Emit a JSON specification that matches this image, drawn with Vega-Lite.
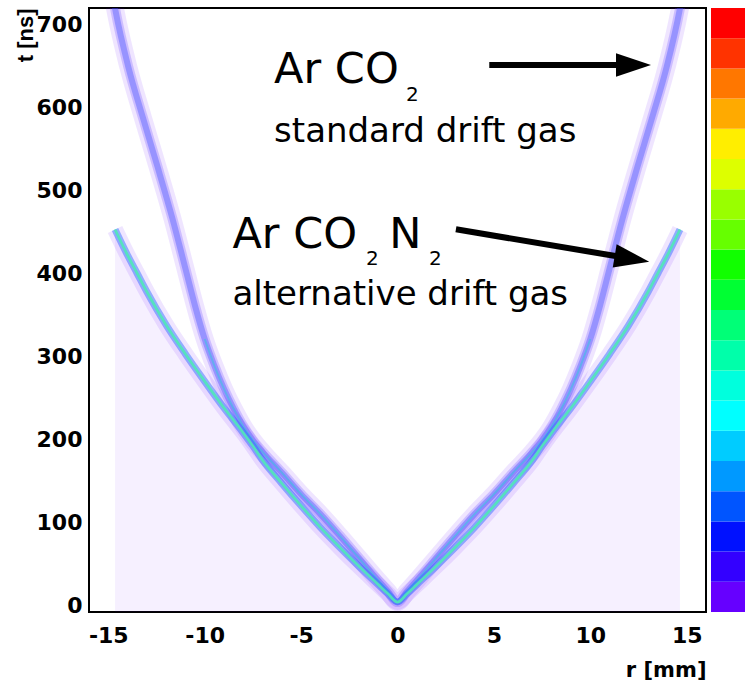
{
  "$schema": "https://vega.github.io/schema/vega-lite/v6.json",
  "width": 617,
  "height": 604,
  "autosize": {"type": "none"},
  "padding": {"left": 89, "top": 8, "right": 39, "bottom": 75},
  "background": "white",
  "config": {
    "view": {"stroke": "#000", "strokeWidth": 2},
    "axis": {"domain": false, "grid": false, "ticks": false}
  },
  "datasets": {
    "curves": [
      {"gas": "ArCO2", "r": -14.7, "t": 726}, {"gas": "ArCO2", "r": -14.62, "t": 716}, {"gas": "ArCO2", "r": -13.96, "t": 649},
      {"gas": "ArCO2", "r": -13.22, "t": 589}, {"gas": "ArCO2", "r": -12.45, "t": 529}, {"gas": "ArCO2", "r": -11.67, "t": 466},
      {"gas": "ArCO2", "r": -11, "t": 406}, {"gas": "ArCO2", "r": -10.5, "t": 361}, {"gas": "ArCO2", "r": -10, "t": 321},
      {"gas": "ArCO2", "r": -9.5, "t": 289}, {"gas": "ArCO2", "r": -9, "t": 261}, {"gas": "ArCO2", "r": -8.5, "t": 237},
      {"gas": "ArCO2", "r": -8, "t": 216}, {"gas": "ArCO2", "r": -7.5, "t": 199}, {"gas": "ArCO2", "r": -7, "t": 185},
      {"gas": "ArCO2", "r": -6, "t": 160}, {"gas": "ArCO2", "r": -5, "t": 134}, {"gas": "ArCO2", "r": -4, "t": 110},
      {"gas": "ArCO2", "r": -3, "t": 84}, {"gas": "ArCO2", "r": -2, "t": 57}, {"gas": "ArCO2", "r": -1, "t": 30},
      {"gas": "ArCO2", "r": -0.5, "t": 17}, {"gas": "ArCO2", "r": 0, "t": 4}, {"gas": "ArCO2", "r": 0.5, "t": 17},
      {"gas": "ArCO2", "r": 1, "t": 30}, {"gas": "ArCO2", "r": 2, "t": 57}, {"gas": "ArCO2", "r": 3, "t": 84},
      {"gas": "ArCO2", "r": 4, "t": 110}, {"gas": "ArCO2", "r": 5, "t": 134}, {"gas": "ArCO2", "r": 6, "t": 160},
      {"gas": "ArCO2", "r": 7, "t": 185}, {"gas": "ArCO2", "r": 7.5, "t": 199}, {"gas": "ArCO2", "r": 8, "t": 216},
      {"gas": "ArCO2", "r": 8.5, "t": 237}, {"gas": "ArCO2", "r": 9, "t": 261}, {"gas": "ArCO2", "r": 9.5, "t": 289},
      {"gas": "ArCO2", "r": 10, "t": 321}, {"gas": "ArCO2", "r": 10.5, "t": 361}, {"gas": "ArCO2", "r": 11, "t": 406},
      {"gas": "ArCO2", "r": 11.67, "t": 466}, {"gas": "ArCO2", "r": 12.45, "t": 529}, {"gas": "ArCO2", "r": 13.22, "t": 589},
      {"gas": "ArCO2", "r": 13.96, "t": 649}, {"gas": "ArCO2", "r": 14.62, "t": 716}, {"gas": "ArCO2", "r": 14.7, "t": 726},
      {"gas": "ArCO2N2", "r": -14.65, "t": 453}, {"gas": "ArCO2N2", "r": -14, "t": 422},
      {"gas": "ArCO2N2", "r": -13.5, "t": 400}, {"gas": "ArCO2N2", "r": -13, "t": 378}, {"gas": "ArCO2N2", "r": -12, "t": 338},
      {"gas": "ArCO2N2", "r": -11, "t": 303}, {"gas": "ArCO2N2", "r": -10, "t": 270}, {"gas": "ArCO2N2", "r": -9, "t": 238},
      {"gas": "ArCO2N2", "r": -8, "t": 208}, {"gas": "ArCO2N2", "r": -7.5, "t": 192}, {"gas": "ArCO2N2", "r": -7, "t": 175},
      {"gas": "ArCO2N2", "r": -6, "t": 147}, {"gas": "ArCO2N2", "r": -5, "t": 120}, {"gas": "ArCO2N2", "r": -4, "t": 94},
      {"gas": "ArCO2N2", "r": -3, "t": 70}, {"gas": "ArCO2N2", "r": -2, "t": 47}, {"gas": "ArCO2N2", "r": -1, "t": 25},
      {"gas": "ArCO2N2", "r": -0.5, "t": 14}, {"gas": "ArCO2N2", "r": 0, "t": 4}, {"gas": "ArCO2N2", "r": 0.5, "t": 14},
      {"gas": "ArCO2N2", "r": 1, "t": 25}, {"gas": "ArCO2N2", "r": 2, "t": 47}, {"gas": "ArCO2N2", "r": 3, "t": 70},
      {"gas": "ArCO2N2", "r": 4, "t": 94}, {"gas": "ArCO2N2", "r": 5, "t": 120}, {"gas": "ArCO2N2", "r": 6, "t": 147},
      {"gas": "ArCO2N2", "r": 7, "t": 175}, {"gas": "ArCO2N2", "r": 7.5, "t": 192}, {"gas": "ArCO2N2", "r": 8, "t": 208},
      {"gas": "ArCO2N2", "r": 9, "t": 238}, {"gas": "ArCO2N2", "r": 10, "t": 270}, {"gas": "ArCO2N2", "r": 11, "t": 303},
      {"gas": "ArCO2N2", "r": 12, "t": 338}, {"gas": "ArCO2N2", "r": 13, "t": 378}, {"gas": "ArCO2N2", "r": 13.5, "t": 400},
      {"gas": "ArCO2N2", "r": 14, "t": 422}, {"gas": "ArCO2N2", "r": 14.65, "t": 453}
    ],
    "palette": [{"level": 0}, {"level": 20}],
    "xmajor": [{"r": -15}, {"r": -10}, {"r": -5}, {"r": 0}, {"r": 5}, {"r": 10}, {"r": 15}],
    "xminor": [{"r": -14}, {"r": -13}, {"r": -12}, {"r": -11}, {"r": -9}, {"r": -8}, {"r": -7}, {"r": -6}, {"r": -4}, {"r": -3}, {"r": -2}, {"r": -1}, {"r": 1}, {"r": 2}, {"r": 3}, {"r": 4}, {"r": 6}, {"r": 7}, {"r": 8}, {"r": 9}, {"r": 11}, {"r": 12}, {"r": 13}, {"r": 14}],
    "ymajor": [{"t": 0}, {"t": 100}, {"t": 200}, {"t": 300}, {"t": 400}, {"t": 500}, {"t": 600}, {"t": 700}],
    "yminor": [{"t": 20}, {"t": 40}, {"t": 60}, {"t": 80}, {"t": 120}, {"t": 140}, {"t": 160}, {"t": 180}, {"t": 220}, {"t": 240}, {"t": 260}, {"t": 280}, {"t": 320}, {"t": 340}, {"t": 360}, {"t": 380}, {"t": 420}, {"t": 440}, {"t": 460}, {"t": 480}, {"t": 520}, {"t": 540}, {"t": 560}, {"t": 580}, {"t": 620}, {"t": 640}, {"t": 660}, {"t": 680}, {"t": 720}],
    "notes": [
      {"role": "main", "text": "Ar CO", "r": -6.4, "t": 629.3},
      {"role": "sub", "text": "2", "r": 0.44, "t": 607.9},
      {"role": "desc", "text": "standard drift gas", "r": -6.4, "t": 558.2},
      {"role": "main", "text": "Ar CO", "r": -8.56, "t": 430.4},
      {"role": "sub", "text": "2", "r": -1.64, "t": 410.3},
      {"role": "main", "text": "N", "r": -0.43, "t": 430.4},
      {"role": "sub", "text": "2", "r": 1.64, "t": 410.3},
      {"role": "desc", "text": "alternative drift gas", "r": -8.56, "t": 362}
    ],
    "arrows": [
      {"arrow": 1, "r": 4.76, "t": 651.3, "r2": 12.24, "t2": 651.3},
      {"arrow": 2, "r": 3.03, "t": 453.3, "r2": 12.16, "t2": 417.7}
    ]
  },
  "encoding": {
    "x": {
      "field": "r", "type": "quantitative",
      "scale": {"domain": [-16, 16], "nice": false, "zero": false},
      "axis": {
        "title": "r [mm]",
        "values": [-15, -10, -5, 0, 5, 10, 15],
        "labelExpr": "'' + datum.value",
        "labelFont": "DejaVu Sans", "labelFontWeight": "bold", "labelFontSize": 22, "labelColor": "#000",
        "labelPadding": 13, "labelFlush": false, "labelOverlap": false,
        "titleFont": "DejaVu Sans", "titleFontWeight": "bold", "titleFontSize": 21, "titleColor": "#000",
        "titleX": 617, "titleY": 64, "titleAlign": "right", "titleBaseline": "alphabetic"
      }
    },
    "y": {
      "field": "t", "type": "quantitative",
      "scale": {"domain": [-8, 720], "nice": false, "zero": false},
      "axis": {
        "title": "t [ns]",
        "values": [0, 100, 200, 300, 400, 500, 600, 700],
        "labelExpr": "'' + datum.value",
        "labelFont": "DejaVu Sans", "labelFontWeight": "bold", "labelFontSize": 22, "labelColor": "#000",
        "labelPadding": 7, "labelFlush": false, "labelOverlap": false,
        "titleFont": "Liberation Sans", "titleFontWeight": "bold", "titleFontSize": 22, "titleColor": "#000",
        "titleX": -57, "titleY": 0, "titleAngle": -90, "titleAlign": "right", "titleBaseline": "alphabetic"
      }
    }
  },
  "layer": [
    {
      "data": {"name": "palette"},
      "mark": {"type": "point", "filled": true, "size": 0, "opacity": 1},
      "encoding": {
        "x": {"datum": 0},
        "y": {"datum": 0},
        "color": {
          "field": "level", "type": "quantitative",
          "scale": {"type": "quantize", "domain": [0, 20], "nice": false, "zero": false,
            "range": ["#6600ff","#3300ff","#0011ff","#0055ff","#0099ff","#00ccff","#00ffff","#00ffdd","#00ffaa","#00ff77","#00ff33","#11ff00","#66ff00","#99ff00","#ddff00","#ffee00","#ffaa00","#ff7700","#ff3300","#ff0000"]},
          "legend": {
            "type": "gradient", "orient": "none", "legendX": 622, "legendY": 0, "padding": 0,
            "direction": "vertical", "gradientLength": 604, "gradientThickness": 34,
            "gradientStrokeWidth": 0, "title": null, "labelExpr": "''", "labelOpacity": 0
          }
        }
      }
    },
    {
      "data": {"name": "curves"},
      "transform": [{"filter": "datum.gas === 'ArCO2N2'"}],
      "mark": {"type": "area", "color": "#6600ff", "opacity": 0.06, "clip": true},
      "encoding": {"y2": {"datum": -8}}
    },
    {
      "data": {"name": "curves"},
      "transform": [{"filter": "datum.gas === 'ArCO2'"}],
      "mark": {"type": "line", "color": "#6600ff", "strokeWidth": 18, "opacity": 0.1, "interpolate": "monotone", "clip": true, "strokeCap": "butt"}
    },
    {
      "data": {"name": "curves"},
      "transform": [{"filter": "datum.gas === 'ArCO2N2'"}],
      "mark": {"type": "line", "color": "#6600ff", "strokeWidth": 16, "opacity": 0.1, "interpolate": "monotone", "clip": true, "strokeCap": "butt"}
    },
    {
      "data": {"name": "curves"},
      "transform": [{"filter": "datum.gas === 'ArCO2'"}],
      "mark": {"type": "line", "color": "#5533ff", "strokeWidth": 10, "opacity": 0.22, "interpolate": "monotone", "clip": true, "strokeCap": "butt"}
    },
    {
      "data": {"name": "curves"},
      "transform": [{"filter": "datum.gas === 'ArCO2'"}],
      "mark": {"type": "line", "color": "#3344ff", "strokeWidth": 6, "opacity": 0.35, "interpolate": "monotone", "clip": true, "strokeCap": "butt"}
    },
    {
      "data": {"name": "curves"},
      "transform": [{"filter": "datum.gas === 'ArCO2' && abs(datum.r) <= 10"}],
      "mark": {"type": "line", "color": "#30c8e0", "strokeWidth": 2, "opacity": 0.5, "interpolate": "monotone", "clip": true, "strokeCap": "butt"}
    },
    {
      "data": {"name": "curves"},
      "transform": [{"filter": "datum.gas === 'ArCO2N2'"}],
      "mark": {"type": "line", "color": "#2266ff", "strokeWidth": 7, "opacity": 0.45, "interpolate": "monotone", "clip": true, "strokeCap": "butt"}
    },
    {
      "data": {"name": "curves"},
      "transform": [{"filter": "datum.gas === 'ArCO2N2'"}],
      "mark": {"type": "line", "color": "#50e8b8", "strokeWidth": 2.8, "opacity": 0.9, "interpolate": "monotone", "clip": true, "strokeCap": "butt"}
    },
    {
      "data": {"name": "xmajor"},
      "mark": {"type": "rule", "color": "#000", "strokeWidth": 2, "opacity": 1},
      "encoding": {
        "x": {"field": "r", "type": "quantitative"},
        "y": {"datum": -8},
        "y2": {"datum": 2.8}
      }
    },
    {
      "data": {"name": "xminor"},
      "mark": {"type": "rule", "color": "#000", "strokeWidth": 2, "opacity": 1},
      "encoding": {
        "x": {"field": "r", "type": "quantitative"},
        "y": {"datum": -8},
        "y2": {"datum": -2}
      }
    },
    {
      "data": {"name": "ymajor"},
      "mark": {"type": "rule", "color": "#000", "strokeWidth": 2, "opacity": 1},
      "encoding": {
        "y": {"field": "t", "type": "quantitative"},
        "x": {"datum": -16},
        "x2": {"datum": -15.53}
      }
    },
    {
      "data": {"name": "yminor"},
      "mark": {"type": "rule", "color": "#000", "strokeWidth": 2, "opacity": 1},
      "encoding": {
        "y": {"field": "t", "type": "quantitative"},
        "x": {"datum": -16},
        "x2": {"datum": -15.74}
      }
    },
    {
      "data": {"name": "arrows"},
      "mark": {"type": "rule", "color": "#000", "strokeWidth": 6, "strokeCap": "butt"},
      "encoding": {
        "x2": {"field": "r2"},
        "y2": {"field": "t2"}
      }
    },
    {
      "data": {"name": "arrows"},
      "transform": [{"filter": "datum.arrow === 1"}],
      "mark": {"type": "point", "shape": "M-1,-0.67L1,0L-1,0.67Z", "size": 1225, "filled": true, "color": "#000", "opacity": 1, "angle": 0},
      "encoding": {
        "x": {"field": "r2", "type": "quantitative"},
        "y": {"field": "t2", "type": "quantitative"}
      }
    },
    {
      "data": {"name": "arrows"},
      "transform": [{"filter": "datum.arrow === 2"}],
      "mark": {"type": "point", "shape": "M-1,-0.67L1,0L-1,0.67Z", "size": 1225, "filled": true, "color": "#000", "opacity": 1, "angle": 9.5},
      "encoding": {
        "x": {"field": "r2", "type": "quantitative"},
        "y": {"field": "t2", "type": "quantitative"}
      }
    },
    {
      "data": {"name": "notes"},
      "transform": [{"filter": "datum.role === 'main'"}],
      "mark": {"type": "text", "align": "left", "baseline": "alphabetic", "font": "DejaVu Sans", "fontSize": 43, "color": "#000"},
      "encoding": {"text": {"field": "text"}}
    },
    {
      "data": {"name": "notes"},
      "transform": [{"filter": "datum.role === 'sub'"}],
      "mark": {"type": "text", "align": "left", "baseline": "alphabetic", "font": "DejaVu Sans", "fontSize": 20, "color": "#000"},
      "encoding": {"text": {"field": "text"}}
    },
    {
      "data": {"name": "notes"},
      "transform": [{"filter": "datum.role === 'desc'"}],
      "mark": {"type": "text", "align": "left", "baseline": "alphabetic", "font": "DejaVu Sans", "fontSize": 34, "color": "#000"},
      "encoding": {"text": {"field": "text"}}
    }
  ]
}
